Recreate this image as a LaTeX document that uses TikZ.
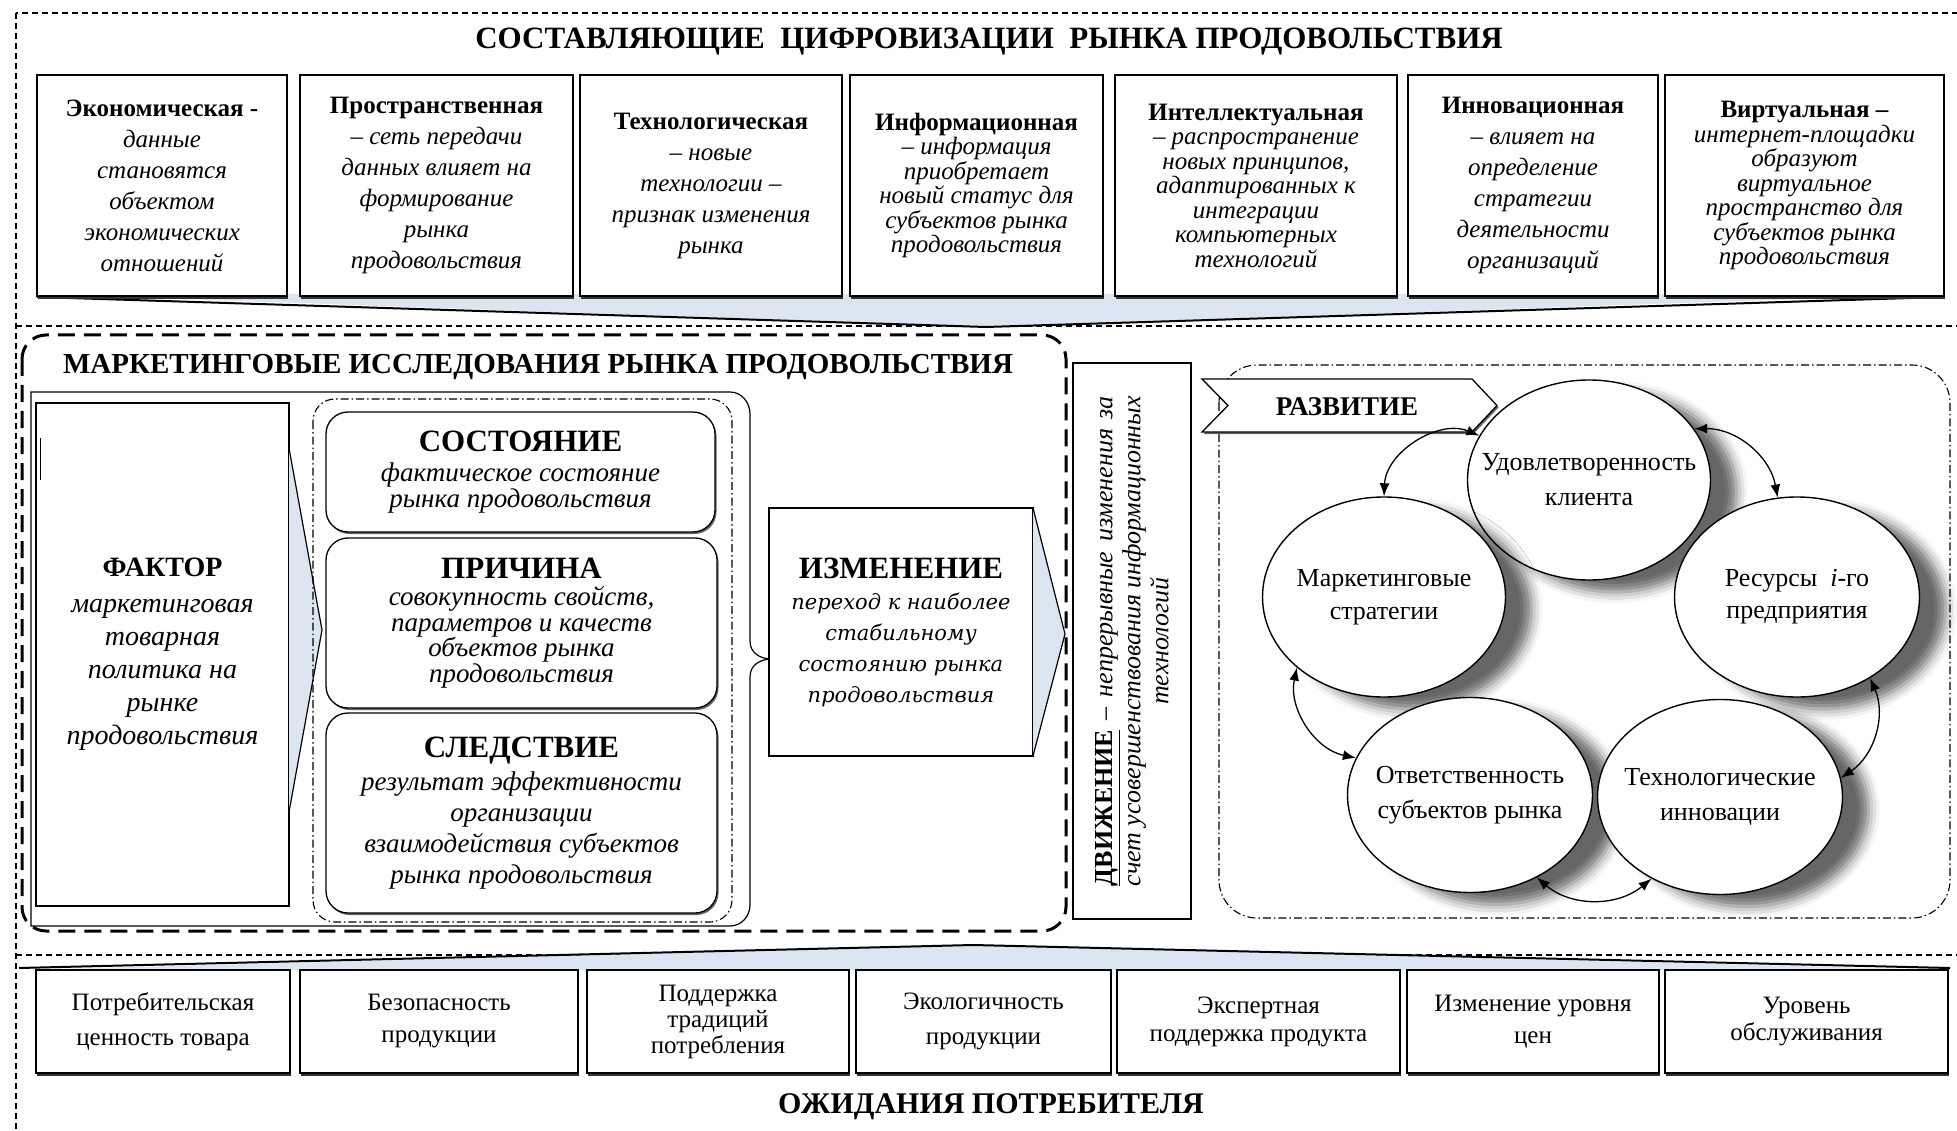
\documentclass[tikz,border=0pt]{standalone}
\usepackage{fontspec}
\setmainfont{Liberation Serif}
\newfontfamily\wideserif{DejaVu Serif}
\usetikzlibrary{shapes.geometric, shadows, shadows.blur, arrows.meta}

\definecolor{wedgeblue}{HTML}{DCE6F2}
\newcommand{\boxhead}[1]{{\rmfamily\upshape\bfseries #1}}
\newcommand{\bighead}[1]{{\rmfamily\upshape\bfseries\fontsize{31}{31}\selectfont #1}}

\tikzset{
  framedash/.style={dash pattern=on 6pt off 4pt, line width=1.1pt},
  bigdash/.style={dash pattern=on 17pt off 9pt, line width=3pt},
  dashdot/.style={dash pattern=on 8pt off 3pt on 1.5pt off 3pt, line width=1.1pt},
  headline/.style={font=\bfseries\fontsize{31}{31}\selectfont},
  topbox/.style={draw, line width=1.3pt, fill=white, align=center, minimum height=221pt,
    inner sep=1pt, font=\itshape\fontsize{25}{31}\selectfont,
    drop shadow={shadow xshift=1pt, shadow yshift=-3pt, fill=black!80, opacity=1}},
  tightlines/.style={font=\itshape\fontsize{25}{24.5}\selectfont},
  botbox/.style={draw, line width=1.3pt, fill=white, align=center, minimum height=103pt,
    inner sep=1pt, font=\fontsize{25}{35}\selectfont,
    drop shadow={shadow xshift=1pt, shadow yshift=-2.5pt, fill=black!80, opacity=1}},
  innerbox/.style={draw, line width=1.3pt, fill=white, rounded corners=22pt, align=center,
    font=\itshape\fontsize{27}{25.5}\selectfont,
    drop shadow={shadow xshift=1.5pt, shadow yshift=-2pt, fill=black!60, opacity=1}},
  cyc/.style={ellipse, draw, line width=1.4pt, fill=white, inner sep=0pt,
    minimum width=243pt, minimum height=200pt,
    blur shadow={shadow xshift=26pt, shadow yshift=-12pt, shadow opacity=60, shadow blur radius=11pt}},
  cyctext/.style={align=center, inner sep=0pt, font=\fontsize{26}{35}\selectfont},
  biarrow/.style={{Latex[length=13pt,width=10pt]}-{Latex[length=13pt,width=10pt]}, line width=1.3pt}
}

\begin{document}
\begin{tikzpicture}[x=1pt, y=1pt]
  \useasboundingbox (0,0) rectangle (1957,-1131);
  \clip (0,0) rectangle (1957,-1131);

  % outer frame
  \draw[framedash] (16,-13) rectangle (1985,-1160);
  \draw[framedash] (16,-326) -- (1985,-326);
  \draw[framedash] (16,-955) -- (1985,-955);

  % top part
  \node[headline] (ttop) at (989,-42) {СОСТАВЛЯЮЩИЕ\ \ ЦИФРОВИЗАЦИИ\ \ РЫНКА ПРОДОВОЛЬСТВИЯ};

  \fill[wedgeblue] (37,-294) -- (986,-327) -- (1943,-294) -- cycle;
  \draw[line width=2pt] (37,-297) -- (986,-327) -- (1943,-297);

  \node[topbox, minimum width=250pt] (econ) at (162,-185.5)
    {\boxhead{Экономическая -}\\данные\\становятся\\объектом\\экономических\\отношений};
  \node[topbox, minimum width=273pt] (space) at (436.5,-185.5)
    {\boxhead{Пространственная}\\– сеть передачи\\данных влияет на\\формирование\\рынка\\продовольствия};
  \node[topbox, minimum width=262pt] (tech) at (711,-185.5)
    {\boxhead{Технологическая}\\– новые\\технологии –\\признак изменения\\рынка};
  \node[topbox, tightlines, minimum width=253pt] (info) at (976.5,-185.5)
    {\boxhead{Информационная}\\– информация\\приобретает\\новый статус для\\субъектов рынка\\продовольствия};
  \node[topbox, tightlines, minimum width=282pt] (intel) at (1256,-185.5)
    {\boxhead{Интеллектуальная}\\– распространение\\новых принципов,\\адаптированных к\\интеграции\\компьютерных\\технологий};
  \node[topbox, minimum width=250pt] (innov) at (1533,-185.5)
    {\boxhead{Инновационная}\\– влияет на\\определение\\стратегии\\деятельности\\организаций};
  \node[topbox, tightlines, minimum width=279pt] (virt) at (1804.5,-185.5)
    {\boxhead{Виртуальная –}\\интернет-площадки\\образуют\\виртуальное\\пространство для\\субъектов рынка\\продовольствия};

  % middle part: marketing research
  \draw[bigdash, rounded corners=24pt] (22,-335) rectangle (1066,-931);
  \node[headline, font=\bfseries\fontsize{29}{29}\selectfont] (tmark) at (538,-367)
    {МАРКЕТИНГОВЫЕ ИССЛЕДОВАНИЯ РЫНКА ПРОДОВОЛЬСТВИЯ};

  \draw[line width=1.2pt] (31,-392) -- (730,-392) to[out=0,in=90] (750,-414) -- (750,-641)
    .. controls (750,-653) and (760,-659) .. (772,-659)
    .. controls (760,-659) and (750,-665) .. (750,-677) -- (750,-905)
    to[out=-90,in=0] (730,-926) -- (31,-926) -- cycle;

  \node[draw, line width=1.2pt, fill=white, minimum width=253pt, minimum height=503pt, align=center,
    font=\itshape\fontsize{28}{33}\selectfont] (factor) at (162.5,-654.5)
    {\boxhead{ФАКТОР}\\[3pt]маркетинговая\\товарная\\политика на\\рынке\\продовольствия};
  \draw[line width=0.8pt] (40,-438) -- (40,-480);
  \fill[wedgeblue] (289,-448) -- (322,-630) -- (289,-812) -- cycle;
  \draw[line width=1.2pt] (289,-448) -- (322,-630) -- (289,-812);

  \draw[dashdot, rounded corners=22pt] (313,-399) rectangle (732,-922);
  \node[innerbox, minimum width=389pt, minimum height=120pt] (state) at (520.5,-472)
    {\bighead{СОСТОЯНИЕ}\\[5pt]фактическое состояние\\рынка продовольствия};
  \node[innerbox, minimum width=391pt, minimum height=170pt] (cause) at (521.5,-623)
    {\bighead{ПРИЧИНА}\\[2pt]совокупность свойств,\\параметров и качеств\\объектов рынка\\продовольствия};
  \node[innerbox, minimum width=391pt, minimum height=200pt, font=\itshape\fontsize{27}{31}\selectfont]
    (effect) at (521.5,-813)
    {\bighead{СЛЕДСТВИЕ}\\[2pt]результат эффективности\\организации\\взаимодействия субъектов\\рынка продовольствия};

  \node[draw, line width=1.2pt, fill=white, minimum width=264pt, minimum height=248pt, align=center,
    font=\wideserif\itshape\fontsize{21}{31}\selectfont] (change) at (901,-632)
    {\bighead{ИЗМЕНЕНИЕ}\\переход к наиболее\\стабильному\\состоянию рынка\\продовольствия};
  \fill[wedgeblue] (1033,-508) -- (1065,-634) -- (1033,-756) -- cycle;
  \draw[line width=1.2pt] (1033,-508) -- (1065,-634) -- (1033,-756);

  \node[draw, line width=1.2pt, fill=white, rotate=90, minimum width=556pt, minimum height=118pt,
    inner sep=0pt, align=center, font=\fontsize{26}{28}\selectfont] (move) at (1132,-641)
    {\makebox[490pt][s]{\underline{\textbf{ДВИЖЕНИЕ}} – \textit{непрерывные изменения за}}\\
     \makebox[490pt][s]{\textit{счет усовершенствования информационных}}\\
     \textit{технологий}};

  % right part: development
  \draw[dashdot, rounded corners=38pt] (1219,-365) rectangle (1950,-918);

  \node[cyc] (client) at (1589,-480) {};
  \node[cyc] (strat) at (1384,-597) {};
  \node[cyc, minimum width=245pt] (res) at (1797,-597) {};
  \node[cyc, minimum width=245pt, minimum height=195pt] (resp) at (1470,-795) {};
  \node[cyc, minimum width=245pt, minimum height=195pt] (innovc) at (1720,-797) {};
  \node[cyctext] (clientt) at (client) {Удовлетворенность\\клиента};
  \node[cyctext, font=\fontsize{26}{33}\selectfont] (stratt) at (strat) {Маркетинговые\\стратегии};
  \node[cyctext, font=\fontsize{26}{32}\selectfont] (rest) at (res) {Ресурсы~~\textit{i}-го\\предприятия};
  \node[cyctext] (respt) at (resp) {Ответственность\\субъектов рынка};
  \node[cyctext] (innovt) at (innovc) {Технологические\\инновации};

  \draw[line width=1.3pt, fill=white,
    drop shadow={shadow xshift=1.5pt, shadow yshift=-2pt, fill=black!60, opacity=1}]
    (1202,-379) -- (1472,-379) -- (1497,-405.5) -- (1472,-432) -- (1202,-432) -- (1228,-405.5) -- cycle;
  \node[font=\bfseries\fontsize{27}{27}\selectfont] (devel) at (1347,-407) {РАЗВИТИЕ};

  \draw[biarrow] (client.158) to[bend right=55] (strat.90);
  \draw[biarrow] (client.26) to[bend left=40] (res.101);
  \draw[biarrow] (res.312) to[bend left=40] (innovc.9);
  \draw[biarrow] (innovc.230) to[bend left=40] (resp.309);
  \draw[biarrow] (resp.162) to[bend left=45] (strat.219);

  % bottom part
  \fill[wedgeblue] (19,-970) -- (973,-945) -- (1950,-970) -- cycle;
  \draw[line width=2pt] (19,-968) -- (973,-945) -- (1950,-968);

  \node[botbox, minimum width=254pt] (value) at (163,-1021.5) {Потребительская\\ценность товара};
  \node[botbox, minimum width=278pt, font=\fontsize{25}{32}\selectfont] (safe) at (439,-1021.5) {Безопасность\\продукции};
  \node[botbox, minimum width=262pt, font=\fontsize{25}{26}\selectfont] (trad) at (718,-1021.5) {Поддержка\\традиций\\потребления};
  \node[botbox, minimum width=255pt] (eco) at (983.5,-1021.5) {Экологичность\\продукции};
  \node[botbox, minimum width=283pt, font=\fontsize{25}{28}\selectfont] (expert) at (1258.5,-1021.5) {Экспертная\\поддержка продукта};
  \node[botbox, minimum width=252pt, font=\fontsize{25}{32}\selectfont] (price) at (1533,-1021.5) {Изменение уровня\\цен};
  \node[botbox, minimum width=283pt, font=\fontsize{25}{27}\selectfont] (serv) at (1806.5,-1021.5) {Уровень\\обслуживания};

  \node[headline, font=\bfseries\fontsize{30}{30}\selectfont] (tbot) at (991,-1107) {ОЖИДАНИЯ ПОТРЕБИТЕЛЯ};
\end{tikzpicture}
\end{document}
